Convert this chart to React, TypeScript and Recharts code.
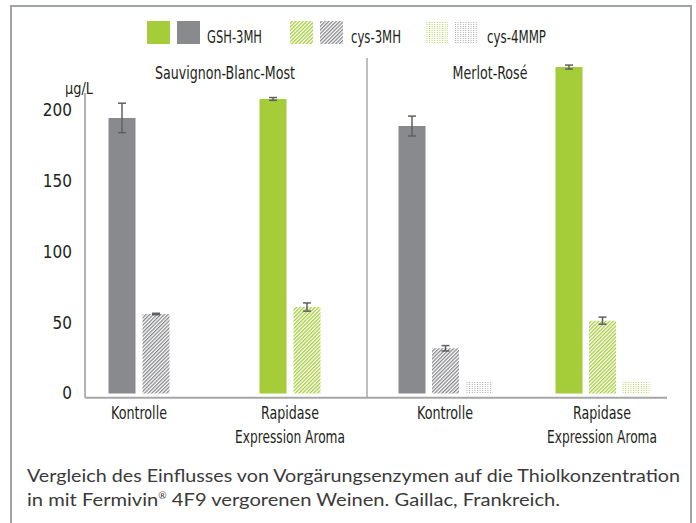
import { BarChart, Bar, XAxis, YAxis, Cell, ErrorBar } from 'recharts';

const categories = ['Kontrolle', 'Rapidase'];
const categoryLines = [['Kontrolle'], ['Rapidase', 'Expression Aroma']];
const yTicks = [0, 50, 100, 150, 200];

// Sauvignon-Blanc-Most (no cys-4MMP)
const sauvGsh = [194.4, 207.8];
const sauvGshErr = [10.4, 1.0];
const sauvCys3 = [56.1, 61.0];
const sauvCys3Err = [0.5, 2.9];

// Merlot-Rosé
const merlotGsh = [188.7, 230.3];
const merlotGshErr = [7.0, 1.4];
const merlotCys3 = [31.9, 51.4];
const merlotCys3Err = [1.9, 2.5];
const merlotCys4 = [8.1, 8.1];

const GREEN = '#a5cd39';
const GREY = '#898a8d';
const ERR = '#5f6062';
const FONT = "'Liberation Sans Narrow', 'DejaVu Sans Condensed', Roboto, sans-serif";
const CAPTION_FONT = "Lato, 'Open Sans', sans-serif";

const labelWidths: Record<string, number> = {
  Kontrolle: 56,
  Rapidase: 58,
  'Expression Aroma': 110,
};

const sauvData = categories.map((name, i) => ({
  name,
  gsh: sauvGsh[i],
  gshErr: sauvGshErr[i],
  cys3: sauvCys3[i],
  cys3Err: sauvCys3Err[i],
}));

const merlotData = categories.map((name, i) => ({
  name,
  gsh: merlotGsh[i],
  gshErr: merlotGshErr[i],
  cys3: merlotCys3[i],
  cys3Err: merlotCys3Err[i],
  cys4: merlotCys4[i],
}));

const isControl = (name: string) => name === 'Kontrolle';

const CategoryTick = (props: any) => {
  const { x, y, payload } = props;
  const idx = categories.indexOf(payload.value);
  const lines = categoryLines[idx] || [payload.value];
  return (
    <g>
      {lines.map((line, i) => (
        <text
          key={line}
          x={x}
          y={y + 21 + i * 24}
          textAnchor="middle"
          fontFamily={FONT}
          fontSize={17}
          fill="#231f20"
          textLength={labelWidths[line]}
          lengthAdjust="spacingAndGlyphs"
        >
          {line}
        </text>
      ))}
    </g>
  );
};

const ValueTick = (props: any) => {
  const { y, payload } = props;
  return (
    <text x={72} y={y + 6} textAnchor="end" fontFamily={FONT} fontSize={17} fill="#231f20">
      {payload.value}
    </text>
  );
};

const Patterns = () => (
  <defs>
    <pattern id="hatchGreen" patternUnits="userSpaceOnUse" width="2.6" height="2.6" patternTransform="rotate(45)">
      <rect width="1.3" height="2.6" fill={GREEN} />
    </pattern>
    <pattern id="hatchGrey" patternUnits="userSpaceOnUse" width="2.6" height="2.6" patternTransform="rotate(45)">
      <rect width="1.3" height="2.6" fill={GREY} />
    </pattern>
    <pattern id="dotGreen" patternUnits="userSpaceOnUse" width="2.6" height="2">
      <rect width="1" height="1" fill="#b5d75c" />
    </pattern>
    <pattern id="dotGrey" patternUnits="userSpaceOnUse" width="2.6" height="2">
      <rect width="1" height="1" fill="#a9aaac" />
    </pattern>
  </defs>
);

const Legend = () => (
  <svg width={696} height={60} style={{ position: 'absolute', left: 0, top: 0 }}>
    <Patterns />
    <rect x={147} y={21} width={23} height={23} fill={GREEN} />
    <rect x={177} y={21} width={23} height={23} fill={GREY} />
    <text x={207} y={43} fontFamily={FONT} fontSize={18} fill="#231f20" textLength={55} lengthAdjust="spacingAndGlyphs">
      GSH-3MH
    </text>
    <rect x={290} y={21} width={23} height={23} fill="url(#hatchGreen)" />
    <rect x={320} y={21} width={23} height={23} fill="url(#hatchGrey)" />
    <text x={351} y={43} fontFamily={FONT} fontSize={18} fill="#231f20" textLength={50} lengthAdjust="spacingAndGlyphs">
      cys-3MH
    </text>
    <rect x={425} y={21} width={23} height={23} fill="url(#dotGreen)" />
    <rect x={455} y={21} width={23} height={23} fill="url(#dotGrey)" />
    <text x={487} y={43} fontFamily={FONT} fontSize={18} fill="#231f20" textLength={59} lengthAdjust="spacingAndGlyphs">
      cys-4MMP
    </text>
  </svg>
);

export default function App() {
  return (
    <div style={{ position: 'absolute', left: 0, top: 0, width: 696, height: 523, background: '#fff', overflow: 'hidden' }}>
      <div
        style={{
          position: 'absolute',
          left: 10,
          top: 5,
          width: 678,
          height: 530,
          borderTop: '2px solid #9ea3a6',
          borderLeft: '2px solid #9ea3a6',
          borderRight: '2px solid #9ea3a6',
        }}
      />
      <Legend />

      <div style={{ position: 'absolute', left: 0, top: 0 }}>
        <BarChart
          width={380}
          height={460}
          data={sauvData}
          margin={{ top: 93, right: 13, bottom: 12.25, left: 0 }}
          barSize={27}
          barGap={7}
        >
          <XAxis
            dataKey="name"
            height={50}
            padding={{ left: -21.5, right: 1.5 }}
            axisLine={{ stroke: '#a6a6a6', strokeWidth: 2 }}
            tickLine={false}
            tickSize={0}
            tickMargin={0}
            tick={<CategoryTick />}
            interval={0}
          />
          <YAxis
            width={85}
            domain={[-3, 212]}
            ticks={yTicks}
            axisLine={{ stroke: '#b3b3b3', strokeWidth: 2 }}
            tickLine={false}
            tick={<ValueTick />}
          />
          <Bar dataKey="gsh" isAnimationActive={false}>
            {sauvData.map((d) => (
              <Cell key={d.name} fill={isControl(d.name) ? GREY : GREEN} />
            ))}
            <ErrorBar dataKey="gshErr" width={4} strokeWidth={1.5} stroke={ERR} direction="y" />
          </Bar>
          <Bar dataKey="cys3" isAnimationActive={false}>
            {sauvData.map((d) => (
              <Cell key={d.name} fill={isControl(d.name) ? 'url(#hatchGrey)' : 'url(#hatchGreen)'} />
            ))}
            <ErrorBar dataKey="cys3Err" width={4} strokeWidth={1.5} stroke={ERR} direction="y" />
          </Bar>
        </BarChart>
      </div>

      <div style={{ position: 'absolute', left: 360, top: 0 }}>
        <BarChart
          width={330}
          height={460}
          data={merlotData}
          margin={{ top: 58, right: 23, bottom: 12.25, left: 0 }}
          barSize={27}
          barGap={6.5}
        >
          <XAxis
            dataKey="name"
            height={50}
            padding={{ left: -0.5, right: -13.5 }}
            axisLine={{ stroke: '#a6a6a6', strokeWidth: 2 }}
            tickLine={false}
            tickSize={0}
            tickMargin={0}
            tick={<CategoryTick />}
            interval={0}
          />
          <YAxis
            width={7}
            domain={[-3, 236.7]}
            ticks={yTicks}
            axisLine={{ stroke: '#a9a9a9', strokeWidth: 1.5 }}
            tickLine={false}
            tick={false}
          />
          <Bar dataKey="gsh" isAnimationActive={false}>
            {merlotData.map((d) => (
              <Cell key={d.name} fill={isControl(d.name) ? GREY : GREEN} />
            ))}
            <ErrorBar dataKey="gshErr" width={4} strokeWidth={1.5} stroke={ERR} direction="y" />
          </Bar>
          <Bar dataKey="cys3" isAnimationActive={false}>
            {merlotData.map((d) => (
              <Cell key={d.name} fill={isControl(d.name) ? 'url(#hatchGrey)' : 'url(#hatchGreen)'} />
            ))}
            <ErrorBar dataKey="cys3Err" width={4} strokeWidth={1.5} stroke={ERR} direction="y" />
          </Bar>
          <Bar dataKey="cys4" isAnimationActive={false}>
            {merlotData.map((d) => (
              <Cell key={d.name} fill={isControl(d.name) ? 'url(#dotGrey)' : 'url(#dotGreen)'} />
            ))}
          </Bar>
        </BarChart>
      </div>

      <svg width={696} height={523} style={{ position: 'absolute', left: 0, top: 0, pointerEvents: 'none' }}>
        <text x={225} y={79} textAnchor="middle" fontFamily={FONT} fontSize={17} fill="#231f20" textLength={140} lengthAdjust="spacingAndGlyphs">
          Sauvignon-Blanc-Most
        </text>
        <text x={490} y={79} textAnchor="middle" fontFamily={FONT} fontSize={17} fill="#231f20" textLength={75} lengthAdjust="spacingAndGlyphs">
          Merlot-Rosé
        </text>
        <text x={65} y={94} fontFamily={FONT} fontSize={16} fill="#231f20" textLength={28} lengthAdjust="spacingAndGlyphs">
          µg/L
        </text>
        <text x={27} y={482} fontFamily={CAPTION_FONT} fontSize={18} fill="#3a3a3a" textLength={653} lengthAdjust="spacingAndGlyphs">
          Vergleich des Einflusses von Vorgärungsenzymen auf die Thiolkonzentration
        </text>
        <text x={27} y={506} fontFamily={CAPTION_FONT} fontSize={18} fill="#3a3a3a" textLength={533} lengthAdjust="spacingAndGlyphs">
          in mit Fermivin
          <tspan fontSize={9} dy={-7}>®</tspan>
          <tspan dy={7}> 4F9 vergorenen Weinen. Gaillac, Frankreich.</tspan>
        </text>
      </svg>
    </div>
  );
}
